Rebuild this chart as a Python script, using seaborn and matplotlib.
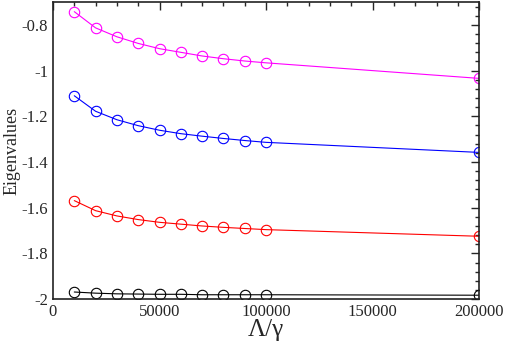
import pandas as pd
import matplotlib.pyplot as plt
import seaborn as sns
from matplotlib.ticker import MultipleLocator

# lambda / gamma values
x_vals = [10000, 20000, 30000, 40000, 50000, 60000, 70000, 80000, 90000, 100000, 200000]

ev_magenta = [-0.742, -0.813, -0.852, -0.881, -0.904, -0.920, -0.936, -0.948, -0.958, -0.966, -1.034]
ev_blue = [-1.110, -1.178, -1.215, -1.241, -1.261, -1.276, -1.287, -1.297, -1.306, -1.314, -1.358]
ev_red = [-1.569, -1.613, -1.636, -1.652, -1.664, -1.672, -1.680, -1.686, -1.691, -1.696, -1.725]
ev_black = [-1.969, -1.974, -1.977, -1.978, -1.979, -1.979, -1.981, -1.981, -1.981, -1.981, -1.983]

series = {"magenta": ev_magenta, "blue": ev_blue, "red": ev_red, "black": ev_black}

sns.set_style("white")
plt.rcParams["font.family"] = ["Liberation Serif", "DejaVu Serif"]

fig = plt.figure(figsize=(5.07, 3.43), dpi=100)
ax = fig.add_axes([0.1045, 0.128, 0.8405, 0.866])

for color, vals in series.items():
    df = pd.DataFrame({"x": x_vals, "y": vals})
    sns.lineplot(data=df, x="x", y="y", ax=ax, color=color, linewidth=0.8,
                 marker="o", markersize=7.5, markerfacecolor="none",
                 markeredgecolor=color, markeredgewidth=0.8)

ax.set_xlim(0, 200000)
ax.set_ylim(-2, -0.7)
ax.xaxis.set_minor_locator(MultipleLocator(10000))
ax.yaxis.set_minor_locator(MultipleLocator(0.04))
ax.set_yticks([-2, -1.8, -1.6, -1.4, -1.2, -1, -0.8])
ax.set_yticklabels(["-2", "-1.8", "-1.6", "-1.4", "-1.2", "-1", "-0.8"])
ax.set_xticks([0, 50000, 100000, 150000, 200000])
ax.set_xticklabels(["0", "50000", "100000", "150000", "200000"])

ax.tick_params(which="both", direction="in", top=True, right=True, labelsize=12, width=1)
ax.tick_params(which="major", length=6)
ax.tick_params(which="minor", length=3)
for sp in ax.spines.values():
    sp.set_color("#222222")
    sp.set_linewidth(1.2)

ax.set_xlabel("Λ/γ", fontsize=18, labelpad=-1)
ax.set_ylabel("Eigenvalues", fontsize=13, labelpad=1)

fig.savefig("out.png", dpi=100)
plt.close()
